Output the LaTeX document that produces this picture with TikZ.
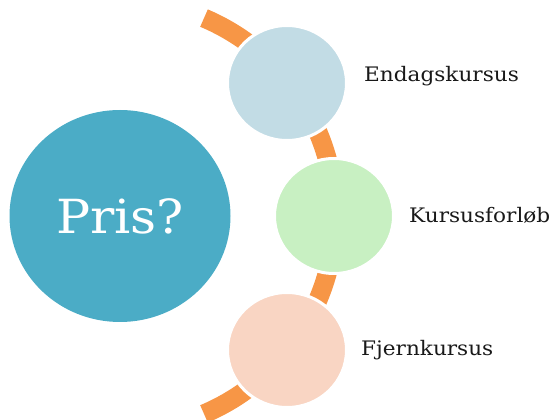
\documentclass[tikz,border=0pt]{standalone}
\usepackage{fontspec}
\setmainfont[FakeStretch=1.08]{DejaVu Serif}
\usetikzlibrary{shapes.geometric, positioning}

\definecolor{prisblue}{HTML}{4BACC6}
\definecolor{endagblue}{HTML}{C2DCE5}
\definecolor{forloebgreen}{HTML}{C8F0C2}
\definecolor{fjernpeach}{HTML}{F9D5C3}
\definecolor{bandorange}{HTML}{F79646}

\tikzset{
    bubble/.style={ellipse, draw=white, line width=3pt, inner sep=0pt,
        minimum width=119pt, minimum height=115pt},
    hubble/.style={ellipse, fill=prisblue, inner sep=0pt,
        minimum width=221pt, minimum height=212pt,
        text=white, font=\fontsize{47}{50}\selectfont},
    band/.style={draw=bandorange, line width=19pt},
    lbl/.style={inner sep=0pt, anchor=west, text=black!90,
        font=\fontsize{20}{22}\selectfont}
}

\begin{document}
\begin{tikzpicture}[x=1pt, y=1pt]
        \useasboundingbox (0,0) rectangle (549,420);
        
        \coordinate (hub) at (120,204);
        \node[hubble] (pris) at (hub) {Pris?};
        
        \draw[band] (hub) ++(67:215) arc[start angle=67, end angle=-67, radius=215];
        
        \node[bubble, fill=endagblue] (endag) at (287,337) {};
        \node[bubble, fill=forloebgreen] (forloeb) at (334,204) {};
        \node[bubble, fill=fjernpeach] (fjern) at (287,70) {};
        
        \node[lbl, right=16pt of endag, yshift=7pt] (endaglbl) {Endagskursus};
        \node[lbl, right=14pt of forloeb, yshift=1pt] (forloeblbl) {Kursusforløb};
        \node[lbl, right=13pt of fjern] (fjernlbl) {Fjernkursus};
        
    \end{tikzpicture}
\end{document}
